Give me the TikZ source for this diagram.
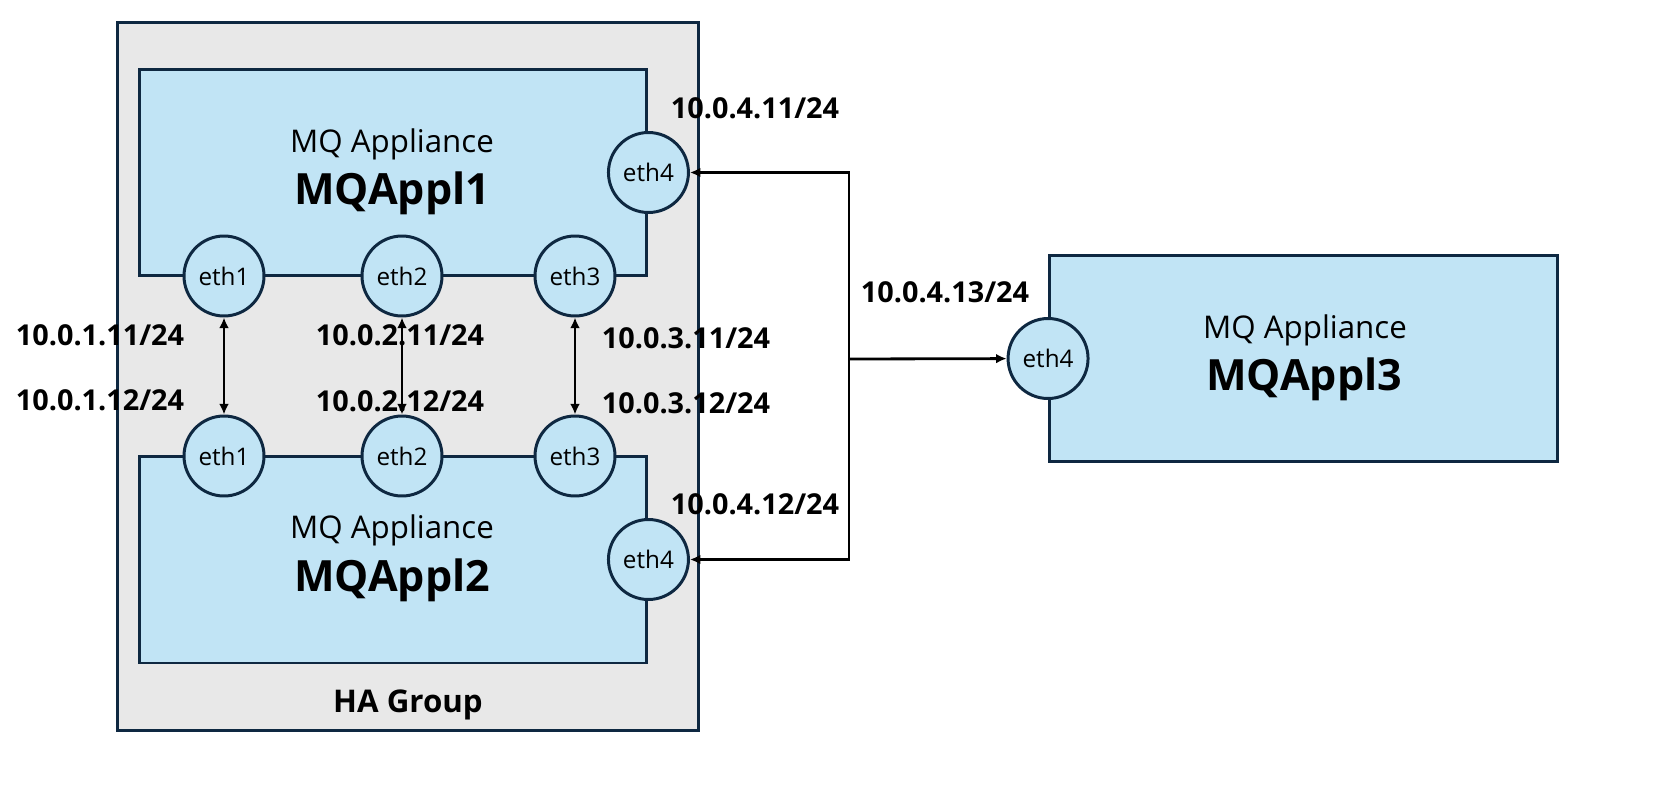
\documentclass[tikz,border=0pt]{standalone}
\usepackage{fontspec}
\setmainfont{Open Sans}
\usetikzlibrary{arrows.meta}
\definecolor{navy}{HTML}{0E2841}
\definecolor{applblue}{HTML}{C1E4F5}
\definecolor{grpgray}{HTML}{E8E8E8}
\begin{document}
\begin{tikzpicture}[x=0.02cm,y=-0.02cm,
grp/.style={draw=navy,fill=grpgray,line width=1.7pt,minimum width=11.64cm,minimum height=14.18cm,inner sep=0pt},
appl/.style={draw=navy,fill=applblue,line width=1.7pt,minimum width=10.16cm,minimum height=4.14cm,inner sep=0pt},
port/.style={circle,draw=navy,fill=applblue,line width=1.7pt,minimum size=1.6cm,inner sep=0pt,font=\fontsize{13.8}{15}\selectfont},
applkind/.style={font=\fontsize{17.8}{20}\selectfont},
applname/.style={font=\fontsize{24.5}{28}\selectfont\bfseries},
ip/.style={font=\fontsize{16.4}{18}\selectfont\bfseries},
link/.style={line width=1.6pt,>={Latex[length=6pt,width=5.5pt]}}]
\path[use as bounding box,fill=white] (0,0) rectangle (1663,792);
\node[grp] (ha) at (408,376.5) {};
\node[font=\fontsize{17.8}{20}\selectfont\bfseries] (halabel) at (408,705) {HA Group};
\node[appl] (a1) at (393,172.5) {};
\node[appl] (a2) at (393,559.5) {};
\node[appl] (a3) at (1303.5,358.5) {};
\node[applkind] (a1kind) at (392,144) {MQ Appliance};
\node[applname] (a1name) at (392,193) {MQAppl1};
\node[applkind] (a2kind) at (392,530) {MQ Appliance};
\node[applname] (a2name) at (392,580) {MQAppl2};
\node[applkind] (a3kind) at (1305,330) {MQ Appliance};
\node[applname] (a3name) at (1304,379) {MQAppl3};
\node[port] (a1e1) at (224,276) {eth1};
\node[port] (a1e2) at (402,276) {eth2};
\node[port] (a1e3) at (575,276) {eth3};
\node[port] (a1e4) at (a1.east) {eth4};
\node[port] (a2e1) at (224,456) {eth1};
\node[port] (a2e2) at (402,456) {eth2};
\node[port] (a2e3) at (575,456) {eth3};
\node[port] (a2e4) at (a2.east) {eth4};
\node[port] (a3e4) at (a3.west) {eth4};
\coordinate (bus) at (849,359);
\draw[link,<->] (a1e1) -- (a2e1);
\draw[link,<->] (a1e2) -- (a2e2);
\draw[link,<->] (a1e3) -- (a2e3);
\draw[link,->] (bus) |- (a1e4);
\draw[link,->] (bus) |- (a2e4);
\draw[link,->] (bus) -- (a3e4);
\node[ip] (ip11) at (100,335) {10.0.1.11/24};
\node[ip] (ip12) at (100,400) {10.0.1.12/24};
\node[ip] (ip21) at (400,335) {10.0.2.11/24};
\node[ip] (ip22) at (400,401) {10.0.2.12/24};
\node[ip] (ip31) at (686,338) {10.0.3.11/24};
\node[ip] (ip32) at (686,403) {10.0.3.12/24};
\node[ip] (ip41) at (755,108) {10.0.4.11/24};
\node[ip] (ip42) at (755,504) {10.0.4.12/24};
\node[ip] (ip43) at (945,292) {10.0.4.13/24};
\end{tikzpicture}
\end{document}
